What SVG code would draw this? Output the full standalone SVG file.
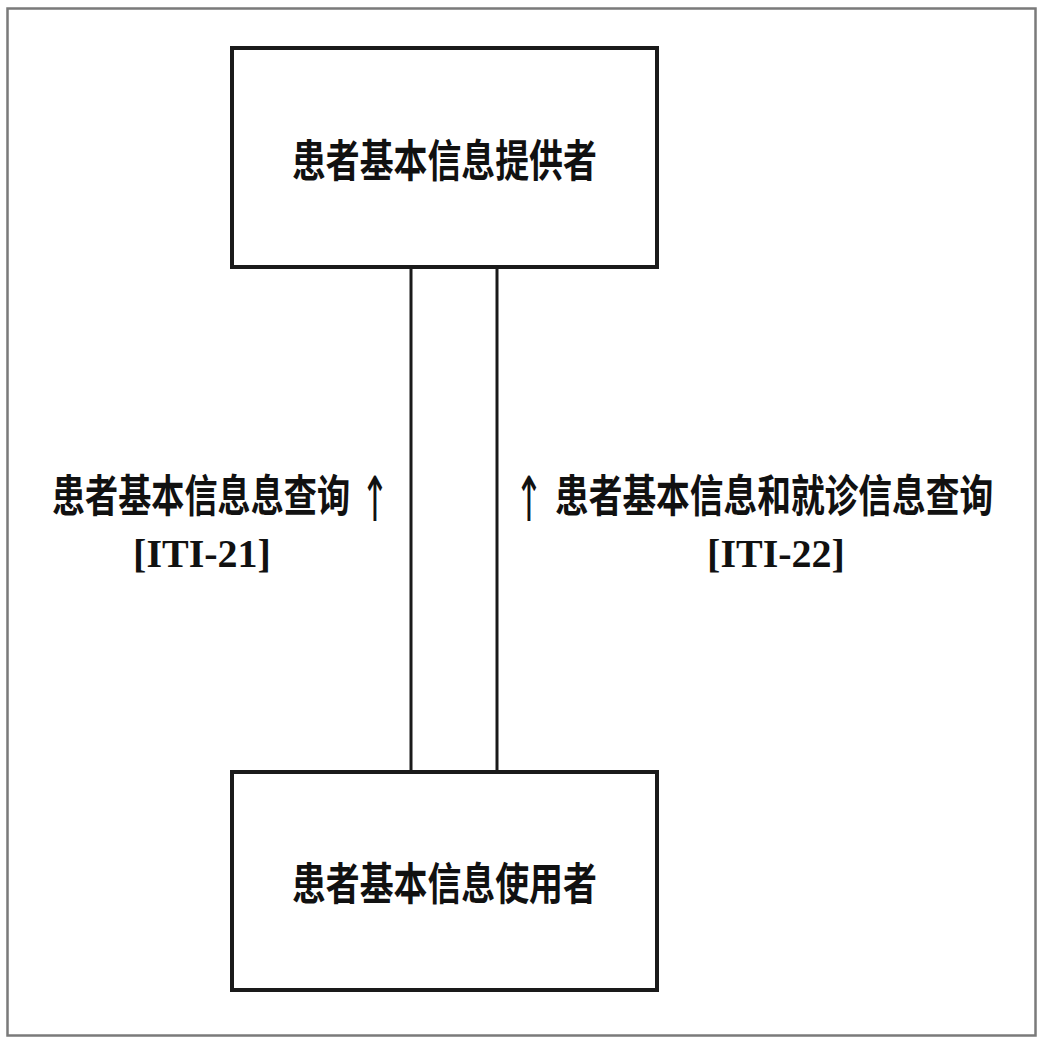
<svg xmlns="http://www.w3.org/2000/svg" width="1037" height="1038" viewBox="0 0 1037 1038">
<style>
.frame{fill:none;stroke:#7a7a7a;stroke-width:2.5}
.box{fill:#fff;stroke:#1a1a1a;stroke-width:4}
.conn{stroke:#1a1a1a;stroke-width:3;fill:none}
.cjk{font-family:"Noto Sans CJK SC","Noto Sans CJK TC",sans-serif;font-weight:700;font-size:44px;fill:#111}
.lat{font-family:"Liberation Serif",serif;font-weight:700;font-size:40px;fill:#111;text-anchor:middle}
.arr{font-family:"DejaVu Sans",sans-serif;font-size:62px;fill:#111;text-anchor:middle}
</style>
<rect x="0" y="0" width="1037" height="1038" fill="#fff"/>
<rect class="frame" x="7.5" y="8.5" width="1028" height="1027"/>
<g id="connectors">
<line class="conn" x1="411" y1="268" x2="411" y2="771"/>
<line class="conn" x1="497" y1="268" x2="497" y2="771"/>
</g>
<g id="provider">
<rect class="box" x="232" y="48" width="425" height="219"/>
<text class="cjk" transform="translate(292,177) scale(0.77,1)">患者基本信息提供者</text>
</g>
<g id="consumer">
<rect class="box" x="232" y="772" width="425" height="218"/>
<text class="cjk" transform="translate(292,900) scale(0.77,1)">患者基本信息使用者</text>
</g>
<g id="label-iti21">
<text class="cjk" transform="translate(52,512) scale(0.753,1)">患者基本信息息查询</text>
<text class="arr" transform="translate(375,521) scale(0.55,1)">↑</text>
<text class="lat" x="202" y="567">[ITI-21]</text>
</g>
<g id="label-iti22">
<text class="arr" transform="translate(529,521) scale(0.55,1)">↑</text>
<text class="cjk" transform="translate(555,512) scale(0.766,1)">患者基本信息和就诊信息查询</text>
<text class="lat" x="776" y="567">[ITI-22]</text>
</g>
</svg>
